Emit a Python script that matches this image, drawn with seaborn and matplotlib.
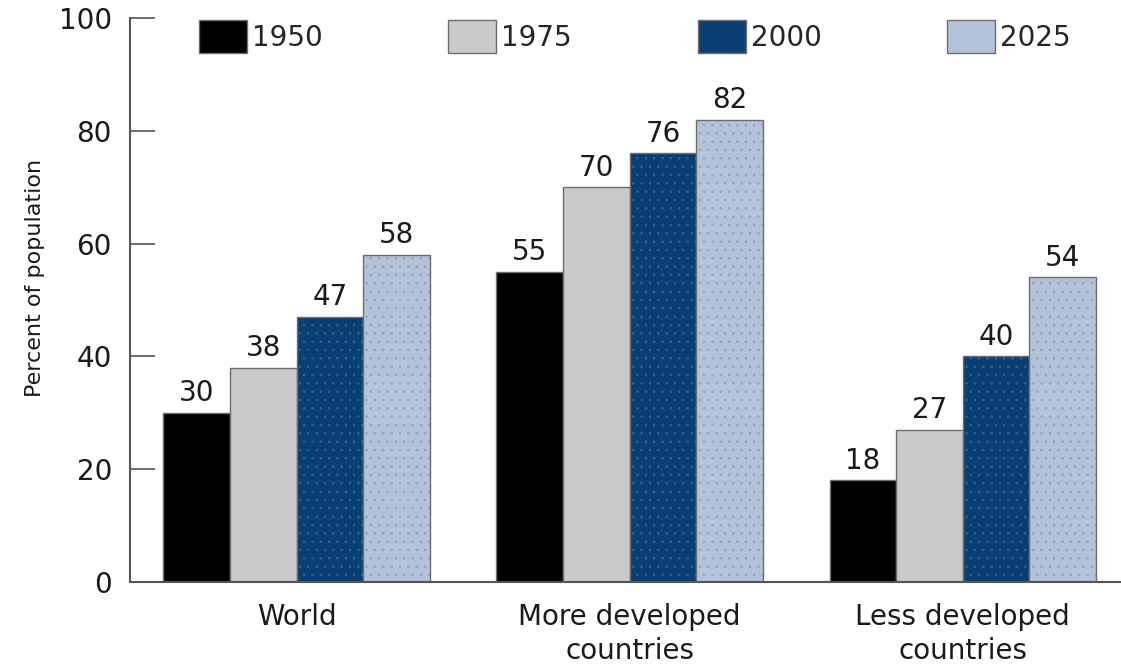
import matplotlib
matplotlib.use("Agg")
import matplotlib.pyplot as plt
import matplotlib.colors as mcolors
import seaborn as sns
import pandas as pd

# Urban share of population by region and year
regions = ["World", "More developed\ncountries", "Less developed\ncountries"]
years = ["1950", "1975", "2000", "2025"]
values_1950 = [30, 55, 18]
values_1975 = [38, 70, 27]
values_2000 = [47, 76, 40]
values_2025 = [58, 82, 54]

series = {"1950": values_1950, "1975": values_1975,
          "2000": values_2000, "2025": values_2025}
df = pd.DataFrame(
    [{"region": r, "year": y, "pct": series[y][i]}
     for y in years for i, r in enumerate(regions)]
)

palette = {"1950": "#000000", "1975": "#cacaca",
           "2000": "#0a3f73", "2025": "#b4c2da"}
# fine stipple printed over the later series
stipple = {"2000": "#2d6399", "2025": "#97a3b8"}

sns.set_style("white")
plt.rcParams["font.family"] = ["DejaVu Sans"]
plt.rcParams["hatch.linewidth"] = 0.6

fig = plt.figure(figsize=(11.21, 6.64), dpi=100)
ax = fig.add_axes([130 / 1121, 82 / 664, 991 / 1121, 564 / 664])

sns.barplot(data=df, x="region", y="pct", hue="year", order=regions,
            hue_order=years, palette=palette, edgecolor="#6e6e6e",
            linewidth=1.0, width=0.8, ax=ax, saturation=1.0)

for cont, year in zip(ax.containers, years):
    ax.bar_label(cont, padding=4, fontsize=20, color="#1a1a1a")
    if year in stipple:
        for bar in cont:
            bar.set_hatch("..")
            bar._hatch_color = mcolors.to_rgba(stipple[year])

ax.set_ylim(0, 100)
ax.set_xlim(-0.5, 2.475)
ax.set_yticks([0, 20, 40, 60, 80, 100])
ax.tick_params(axis="y", direction="in", length=18, width=1.2,
               color="#555555", pad=13, labelsize=20, labelcolor="#1a1a1a",
               left=True)
ax.tick_params(axis="x", length=0, pad=15, labelsize=20, labelcolor="#1a1a1a")
for lbl in ax.get_xticklabels():
    lbl.set_linespacing(1.3)
ax.set_xlabel("")
ax.set_ylabel("Percent of population", fontsize=16, color="#1a1a1a")
ax.yaxis.set_label_coords(-0.0858, 0.539)

for side in ("top", "right"):
    ax.spines[side].set_visible(False)
for side in ("left", "bottom"):
    ax.spines[side].set_color("#555555")
    ax.spines[side].set_linewidth(1.5)

handles, labels = ax.get_legend_handles_labels()
ax.legend(handles, labels, ncol=4, loc="upper left",
          bbox_to_anchor=(69 / 991, 1.0 - 2 / 564), frameon=False, fontsize=20,
          handlelength=1.73, handleheight=1.45, handletextpad=0.18,
          columnspacing=4.52, borderpad=0, borderaxespad=0)

fig.savefig("out.png", dpi=100)
